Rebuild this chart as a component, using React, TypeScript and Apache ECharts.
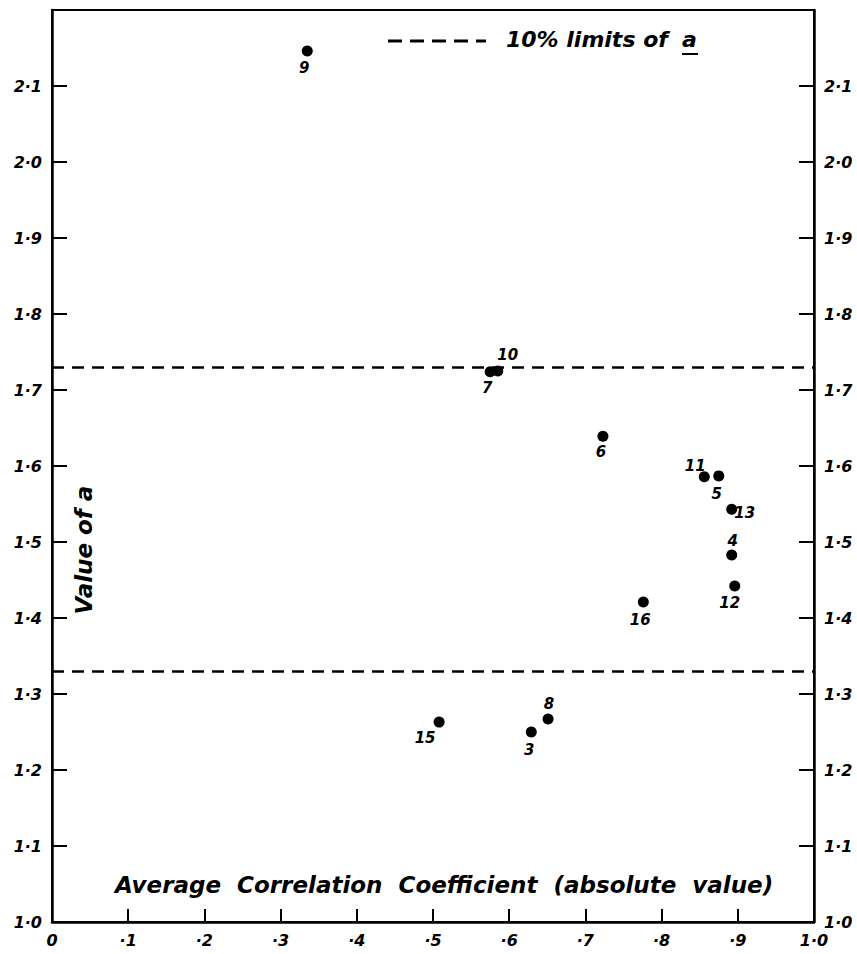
import React, { useEffect, useRef } from "react";
import * as echarts from "echarts";

// Data
const pointIds = ["9", "7", "10", "6", "11", "5", "13", "4", "12", "16", "15", "3", "8"];
const avgCorrelation = [0.335, 0.575, 0.585, 0.723, 0.856, 0.875, 0.892, 0.892, 0.896, 0.776, 0.508, 0.629, 0.651];
const valueOfA = [2.146, 1.724, 1.725, 1.639, 1.586, 1.587, 1.543, 1.483, 1.442, 1.421, 1.263, 1.25, 1.267];
const limitsOfA = [1.73, 1.33];
const xTickLabels = ["0", "·1", "·2", "·3", "·4", "·5", "·6", "·7", "·8", "·9", "1·0"];
const yTickLabels = ["1·0", "1·1", "1·2", "1·3", "1·4", "1·5", "1·6", "1·7", "1·8", "1·9", "2·0", "2·1", ""];

// label offsets (style only)
const labelOffsets: Record<string, [number, number]> = {
  "9": [-3, 17],
  "7": [-3, 16],
  "10": [10, -16],
  "6": [-2, 16],
  "11": [-9, -11],
  "5": [-2, 18],
  "13": [13, 4],
  "4": [1, -14],
  "12": [-5, 17],
  "16": [-3, 18],
  "15": [-14, 16],
  "3": [-2, 18],
  "8": [1, -15],
};

const FONT = "DejaVu Sans";

export default function App() {
  const ref = useRef<HTMLDivElement>(null);
  useEffect(() => {
    if (!ref.current) return;
    const chart = echarts.init(ref.current, null, { renderer: "svg" });
    const labelStyle = {
      fontFamily: FONT,
      fontStyle: "italic" as const,
      fontWeight: "bold" as const,
      fontSize: 16,
      color: "#000",
    };
    const yAxisCommon = {
      type: "value" as const,
      min: 1,
      max: 2.2,
      interval: 0.1,
      splitLine: { show: false },
      axisLine: { show: true, onZero: false, lineStyle: { color: "#000", width: 2.5 } },
      axisTick: { show: true, inside: true, length: 15, lineStyle: { color: "#000", width: 2 } },
      axisLabel: {
        ...labelStyle,
        margin: 10,
        formatter: (v: number) => yTickLabels[Math.round((v - 1) / 0.1)] ?? "",
      },
    };
    const data = pointIds.map((id, i) => ({
      name: id,
      value: [avgCorrelation[i], valueOfA[i]],
      label: { offset: labelOffsets[id] },
    }));
    chart.setOption({
      animation: false,
      backgroundColor: "#fff",
      grid: {
        left: 52,
        right: 43,
        top: 10,
        bottom: 32,
        show: true,
        borderColor: "#000",
        borderWidth: 2,
        backgroundColor: "transparent",
      },
      xAxis: {
        type: "value",
        min: 0,
        max: 1,
        interval: 0.1,
        splitLine: { show: false },
        axisLine: { show: true, onZero: false, lineStyle: { color: "#000", width: 2.5 } },
        axisTick: { show: true, inside: true, length: 13, lineStyle: { color: "#000", width: 2 } },
        axisLabel: {
          ...labelStyle,
          margin: 10,
          formatter: (v: number) => xTickLabels[Math.round(v / 0.1)] ?? "",
        },
      },
      yAxis: [
        { ...yAxisCommon, position: "left" },
        { ...yAxisCommon, position: "right" },
      ],
      series: [
        {
          type: "scatter",
          symbol: "circle",
          symbolSize: 11,
          itemStyle: { color: "#000", opacity: 1 },
          data,
          label: {
            show: true,
            position: "inside",
            formatter: "{b}",
            ...labelStyle,
            fontSize: 15,
            opacity: 1,
          },
          markLine: {
            silent: true,
            symbol: "none",
            label: { show: false },
            lineStyle: { color: "#000", type: [12, 8], width: 2.5, opacity: 1 },
            data: limitsOfA.map((v) => ({ yAxis: v })),
          },
        },
      ],
      graphic: [
        {
          type: "line",
          shape: { x1: 388, y1: 41, x2: 486, y2: 41 },
          style: { stroke: "#000", lineWidth: 3, lineDash: [14, 8] },
        },
        {
          type: "text",
          left: 506,
          top: 28,
          style: {
            text: "10% limits of",
            fontFamily: FONT,
            fontStyle: "italic",
            fontWeight: "bold",
            fontSize: 22,
            fill: "#000",
          },
        },
        {
          type: "text",
          left: 682,
          top: 28,
          style: {
            text: "a",
            fontFamily: FONT,
            fontStyle: "italic",
            fontWeight: "bold",
            fontSize: 22,
            fill: "#000",
          },
        },
        {
          type: "line",
          shape: { x1: 682, y1: 54, x2: 698, y2: 54 },
          style: { stroke: "#000", lineWidth: 2 },
        },
        {
          type: "text",
          left: 115,
          top: 873,
          style: {
            text: "Average  Correlation  Coefficient  (absolute  value)",
            fontFamily: FONT,
            fontStyle: "italic",
            fontWeight: "bold",
            fontSize: 23,
            fill: "#000",
          },
        },
        {
          type: "text",
          x: 84,
          y: 550,
          rotation: Math.PI / 2,
          style: {
            text: "Value of a",
            fontFamily: FONT,
            fontStyle: "italic",
            fontWeight: "bold",
            fontSize: 23,
            fill: "#000",
            align: "center",
            verticalAlign: "middle",
          },
        },
      ],
    });
    return () => chart.dispose();
  }, []);
  return (
    <div
      ref={ref}
      style={{ position: "fixed", left: 0, top: 0, width: 857, height: 954, background: "#fff" }}
    />
  );
}
